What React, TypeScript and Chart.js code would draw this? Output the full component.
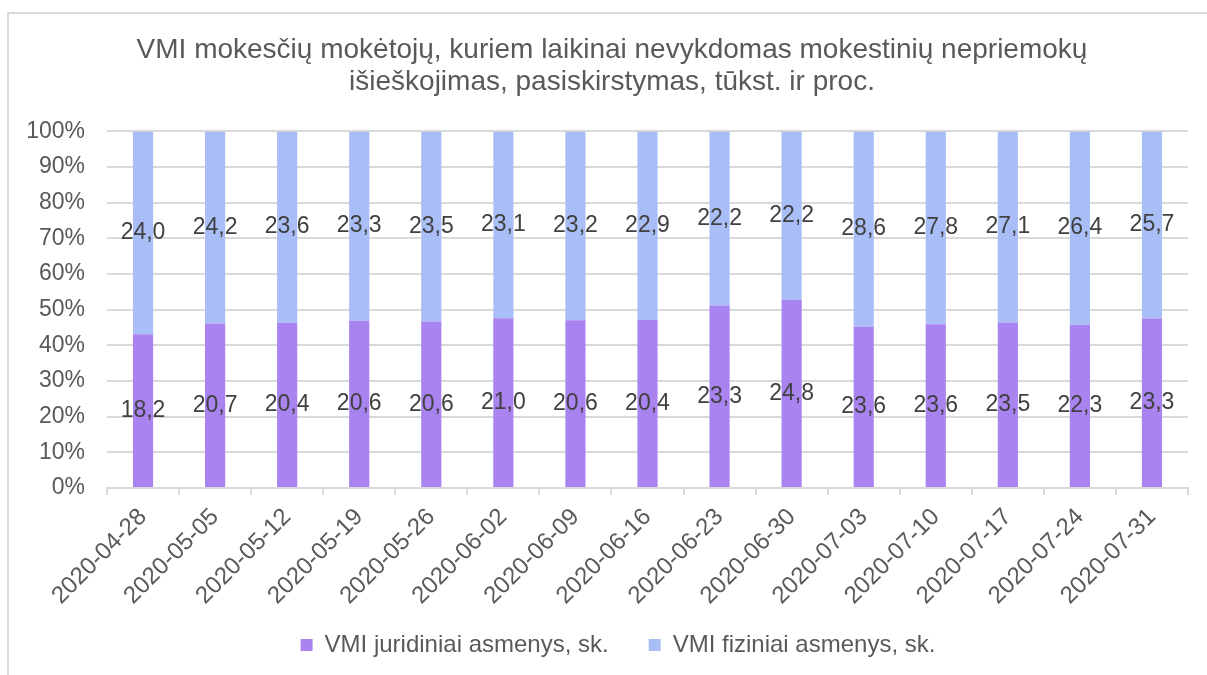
import React, { useEffect, useRef } from "react";
import { Chart, registerables } from "chart.js";

Chart.register(...registerables);

const categories = [
  "2020-04-28", "2020-05-05", "2020-05-12", "2020-05-19", "2020-05-26",
  "2020-06-02", "2020-06-09", "2020-06-16", "2020-06-23", "2020-06-30",
  "2020-07-03", "2020-07-10", "2020-07-17", "2020-07-24", "2020-07-31",
];
const juridiniai = [18.2, 20.7, 20.4, 20.6, 20.6, 21.0, 20.6, 20.4, 23.3, 24.8, 23.6, 23.6, 23.5, 22.3, 23.3];
const fiziniai = [24.0, 24.2, 23.6, 23.3, 23.5, 23.1, 23.2, 22.9, 22.2, 22.2, 28.6, 27.8, 27.1, 26.4, 25.7];
const seriesNames = ["VMI juridiniai asmenys, sk.", "VMI fiziniai asmenys, sk."];
const titleLines = [
  "VMI mokesčių mokėtojų, kuriem laikinai nevykdomas mokestinių nepriemokų",
  "išieškojimas, pasiskirstymas, tūkst. ir proc.",
];
const yTicks = [0, 10, 20, 30, 40, 50, 60, 70, 80, 90, 100];

const FONT = "'Liberation Sans', Arial, sans-serif";

export default function App() {
  const ref = useRef<HTMLCanvasElement | null>(null);

  useEffect(() => {
    document.body.style.margin = "0";
    const totals = juridiniai.map((v, i) => v + fiziniai[i]);
    const pctJ = juridiniai.map((v, i) => (v / totals[i]) * 100);
    const pctF = fiziniai.map((v, i) => (v / totals[i]) * 100);
    const raw = [juridiniai, fiziniai];

    const labelPlugin = {
      id: "segLabels",
      afterDatasetsDraw(chart: any) {
        const ctx = chart.ctx;
        ctx.save();
        ctx.font = `23px ${FONT}`;
        ctx.fillStyle = "#404040";
        ctx.textAlign = "center";
        ctx.textBaseline = "middle";
        chart.data.datasets.forEach((_ds: any, di: number) => {
          const meta = chart.getDatasetMeta(di);
          meta.data.forEach((el: any, i: number) => {
            const y = (el.y + el.base) / 2;
            ctx.fillText(raw[di][i].toFixed(1).replace(".", ","), el.x, y);
          });
        });
        ctx.restore();
      },
    };

    const shiftPlugin = {
      id: "centerShift",
      afterLayout(chart: any) {
        if (chart.legend) {
          chart.legend.left += 24;
          chart.legend.right += 24;
        }
        if (chart.titleBlock) {
          chart.titleBlock.left += 18;
          chart.titleBlock.right += 18;
        }
        if (chart.scales && chart.scales.x) {
          chart.scales.x._computeLabelArea = () => undefined;
        }
      },
    };

    const chart = new Chart(ref.current as HTMLCanvasElement, {
      type: "bar",
      data: {
        labels: categories,
        datasets: [
          {
            label: seriesNames[0],
            data: pctJ,
            backgroundColor: "#A983F0",
            barPercentage: 0.28,
            categoryPercentage: 1,
          },
          {
            label: seriesNames[1],
            data: pctF,
            backgroundColor: "#A9BEF6",
            barPercentage: 0.28,
            categoryPercentage: 1,
          },
        ],
      },
      options: {
        animation: false,
        responsive: false,
        maintainAspectRatio: false,
        layout: { padding: { left: 0, right: 19, top: 0, bottom: 8 } },
        plugins: {
          tooltip: { enabled: false },
          title: {
            display: true,
            text: titleLines,
            color: "#595959",
            font: { family: FONT, size: 28, weight: "normal", lineHeight: 1.15 },
            padding: { top: 34, bottom: 33 },
          },
          legend: {
            position: "bottom",
            labels: {
              color: "#595959",
              font: { family: FONT, size: 24 },
              boxWidth: 12,
              boxHeight: 12,
              padding: 40,
            },
          },
        },
        scales: {
          x: {
            stacked: true,
            grid: {
              display: true,
              drawOnChartArea: false,
              drawTicks: true,
              tickLength: 7,
              color: "#d9d9d9",
              lineWidth: 2,
            },
            border: { display: true, color: "#d9d9d9", width: 2 },
            ticks: {
              color: "#595959",
              font: { family: FONT, size: 24 },
              minRotation: 45,
              maxRotation: 45,
              padding: 8,
              autoSkip: false,
            },
            afterFit: (scale: any) => {
              scale.height = 105;
            },
          },
          y: {
            stacked: true,
            min: 0,
            max: 100,
            afterBuildTicks: (scale: any) => {
              scale.ticks = yTicks.map((v) => ({ value: v }));
            },
            grid: { color: "#d9d9d9", lineWidth: 2, drawTicks: false },
            border: { display: false },
            ticks: {
              color: "#595959",
              font: { family: FONT, size: 23 },
              padding: 22,
              callback: (v: any) => `${v}%`,
            },
            afterFit: (scale: any) => {
              scale.width = 107;
            },
          },
        },
      },
      plugins: [labelPlugin, shiftPlugin],
    });
    return () => chart.destroy();
  }, []);

  return (
    <div style={{ position: "fixed", left: 0, top: 0, width: 1207, height: 675, overflow: "hidden", background: "#fff" }}>
      <div
        style={{
          position: "absolute",
          left: 7,
          top: 12,
          width: 1300,
          height: 800,
          borderLeft: "2px solid #d9d9d9",
          borderTop: "2px solid #d9d9d9",
        }}
      />
      <canvas ref={ref} width={1207} height={675} style={{ position: "absolute", left: 0, top: 0, width: 1207, height: 675 }} />
    </div>
  );
}
